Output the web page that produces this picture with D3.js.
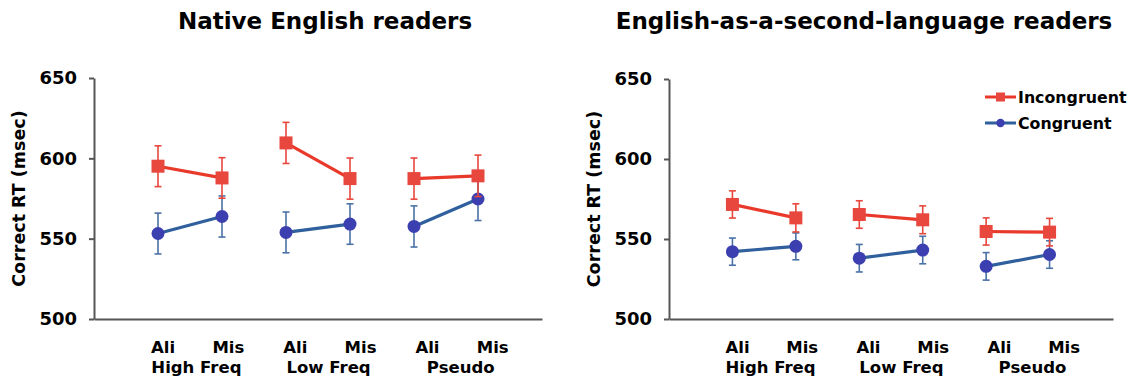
<!DOCTYPE html>
<html>
<head>
<meta charset="utf-8">
<script src="https://cdn.jsdelivr.net/npm/d3@7"></script>
<style>
    body { margin: 0; background: #fff; }
    svg text { font-family: "DejaVu Sans", Verdana, sans-serif; font-weight: bold; fill: #000; }
    .axis path, .axis line { stroke: #555; stroke-width: 2; }
</style>
</head>
<body>
<svg class="chart"></svg>
<script>
var conditions = ['Ali', 'Mis', 'Ali', 'Mis', 'Ali', 'Mis']
var groups = ['High Freq', 'Low Freq', 'Pseudo']
var y_ticks = [500, 550, 600, 650]

var native_incong = [595.1, 587.8, 609.6, 587.4, 587.4, 589.1]
var native_incong_err = [12.7, 12.6, 12.8, 12.8, 12.8, 12.9]
var native_cong = [553.2, 563.8, 553.9, 559.1, 557.6, 574.7]
var native_cong_err = [12.7, 12.8, 12.7, 12.6, 12.8, 13.4]

var esl_incong = [571.6, 563.2, 565.3, 562.0, 554.7, 554.3]
var esl_incong_err = [8.5, 8.8, 8.6, 8.7, 8.5, 8.6]
var esl_cong = [542.1, 545.4, 538.0, 543.1, 532.9, 540.3]
var esl_cong_err = [8.5, 8.4, 8.6, 8.6, 8.6, 8.6]

var red = '#e8392b', red_mark = '#e8473d'
var blue = '#2f5f9c', blue_mark = '#3b3fb0', blue_err = '#4a72a6'

var svg = d3.select('.chart')
    .attr('width', 1132)
    .attr('height', 381)

drawPanel({
    title: 'Native English readers', title_x: 325,
    left: 94, right: 542, top: 78, bottom: 319,
    incong: native_incong, incong_err: native_incong_err,
    cong: native_cong, cong_err: native_cong_err,
    label_x: 19, legend: false
})
drawPanel({
    title: 'English-as-a-second-language readers', title_x: 864,
    left: 669, right: 1113, top: 79, bottom: 319,
    incong: esl_incong, incong_err: esl_incong_err,
    cong: esl_cong, cong_err: esl_cong_err,
    label_x: 594, legend: true
})

function drawPanel(p) {
    var x = d3.scaleLinear().domain([-1, 6]).range([p.left, p.right])
    var y = d3.scaleLinear().domain([500, 650]).range([p.bottom, p.top])
    // the tick labels sit a bit right of the points in the original
    var group_x = d3.scaleLinear().domain([0, 2]).range([x(0.6), x(4.73)])
    var step = x(1) - x(0)

    var g = svg.append('g')

    g.append('text')
        .attr('x', p.title_x)
        .attr('y', 29)
        .attr('text-anchor', 'middle')
        .style('font-size', '23px')
        .text(p.title)

    g.append('g')
        .attr('class', 'axis')
        .attr('transform', 'translate(' + p.left + ',0)')
        .call(d3.axisLeft(y).tickValues(y_ticks).tickSize(5).tickSizeOuter(0).tickPadding(12))
        .call(a => a.selectAll('text').style('font-size', '18px').attr('fill', '#000'))

    g.append('g')
        .attr('class', 'axis')
        .attr('transform', 'translate(0,' + p.bottom + ')')
        .call(d3.axisBottom(x).tickValues([]).tickSizeOuter(0))

    g.append('text')
        .attr('transform', 'translate(' + p.label_x + ',' + (p.top + p.bottom) / 2 + ') rotate(-90)')
        .attr('text-anchor', 'middle')
        .attr('dy', '0.36em')
        .style('font-size', '17.5px')
        .text('Correct RT (msec)')

    g.selectAll('.cond_label')
        .data(conditions)
        .enter().append('text')
        .attr('class', 'cond_label')
        .attr('x', (d, i) => group_x(Math.floor(i / 2)) + (i % 2 == 0 ? -0.52 : 0.5) * step)
        .attr('y', 353)
        .attr('text-anchor', 'middle')
        .style('font-size', '16.5px')
        .text(d => d)

    g.selectAll('.group_label')
        .data(groups)
        .enter().append('text')
        .attr('class', 'group_label')
        .attr('x', (d, i) => group_x(i))
        .attr('y', 373)
        .attr('text-anchor', 'middle')
        .style('font-size', '16.5px')
        .text(d => d)

    drawSeries(g, x, y, p.cong, p.cong_err, blue, blue_err, blue_mark, 'circle')
    drawSeries(g, x, y, p.incong, p.incong_err, red, red_mark, red_mark, 'square')

    if (p.legend) {
        var legend = [
            { name: 'Incongruent', color: red, mark: red_mark, shape: 'square' },
            { name: 'Congruent', color: blue, mark: blue_mark, shape: 'circle' }
        ]
        var lg = g.selectAll('.legend')
            .data(legend)
            .enter().append('g')
            .attr('class', 'legend')
            .attr('transform', (d, i) => 'translate(985,' + (97 + i * 26) + ')')
        lg.append('line')
            .attr('x1', 0).attr('x2', 31)
            .attr('stroke', d => d.color)
            .attr('stroke-width', 3)
        lg.each(function (d) {
            var el = d3.select(this)
            if (d.shape == 'square')
                el.append('rect').attr('x', 11).attr('y', -4.5).attr('width', 9).attr('height', 9).attr('fill', d.mark)
            else
                el.append('circle').attr('cx', 15.5).attr('r', 4.2).attr('fill', d.mark)
        })
        lg.append('text')
            .attr('x', 33)
            .attr('y', 5.8)
            .style('font-size', '15.8px')
            .text(d => d.name)
    }
}

function drawSeries(g, x, y, values, errs, line_color, err_color, mark_color, shape) {
    var pts = values.map((v, i) => ({ i: i, v: v, e: errs[i] }))
    var pairs = [pts.slice(0, 2), pts.slice(2, 4), pts.slice(4, 6)]
    var line = d3.line().x(d => x(d.i)).y(d => y(d.v))

    var bars = g.selectAll(null)
        .data(pts)
        .enter().append('g')
        .attr('stroke', err_color)
        .attr('stroke-width', 1.6)
    bars.append('line')
        .attr('x1', d => x(d.i)).attr('x2', d => x(d.i))
        .attr('y1', d => y(d.v - d.e)).attr('y2', d => y(d.v + d.e))
    bars.append('line')
        .attr('x1', d => x(d.i) - 3.5).attr('x2', d => x(d.i) + 3.5)
        .attr('y1', d => y(d.v + d.e)).attr('y2', d => y(d.v + d.e))
    bars.append('line')
        .attr('x1', d => x(d.i) - 3.5).attr('x2', d => x(d.i) + 3.5)
        .attr('y1', d => y(d.v - d.e)).attr('y2', d => y(d.v - d.e))

    g.selectAll(null)
        .data(pairs)
        .enter().append('path')
        .attr('d', line)
        .attr('fill', 'none')
        .attr('stroke', line_color)
        .attr('stroke-width', 3.2)

    if (shape == 'square') {
        g.selectAll(null)
            .data(pts)
            .enter().append('rect')
            .attr('x', d => x(d.i) - 6.5).attr('y', d => y(d.v) - 6.5)
            .attr('width', 13).attr('height', 13)
            .attr('fill', mark_color)
    } else {
        g.selectAll(null)
            .data(pts)
            .enter().append('circle')
            .attr('cx', d => x(d.i)).attr('cy', d => y(d.v))
            .attr('r', 6.5)
            .attr('fill', mark_color)
    }
}
</script>
</body>
</html>
